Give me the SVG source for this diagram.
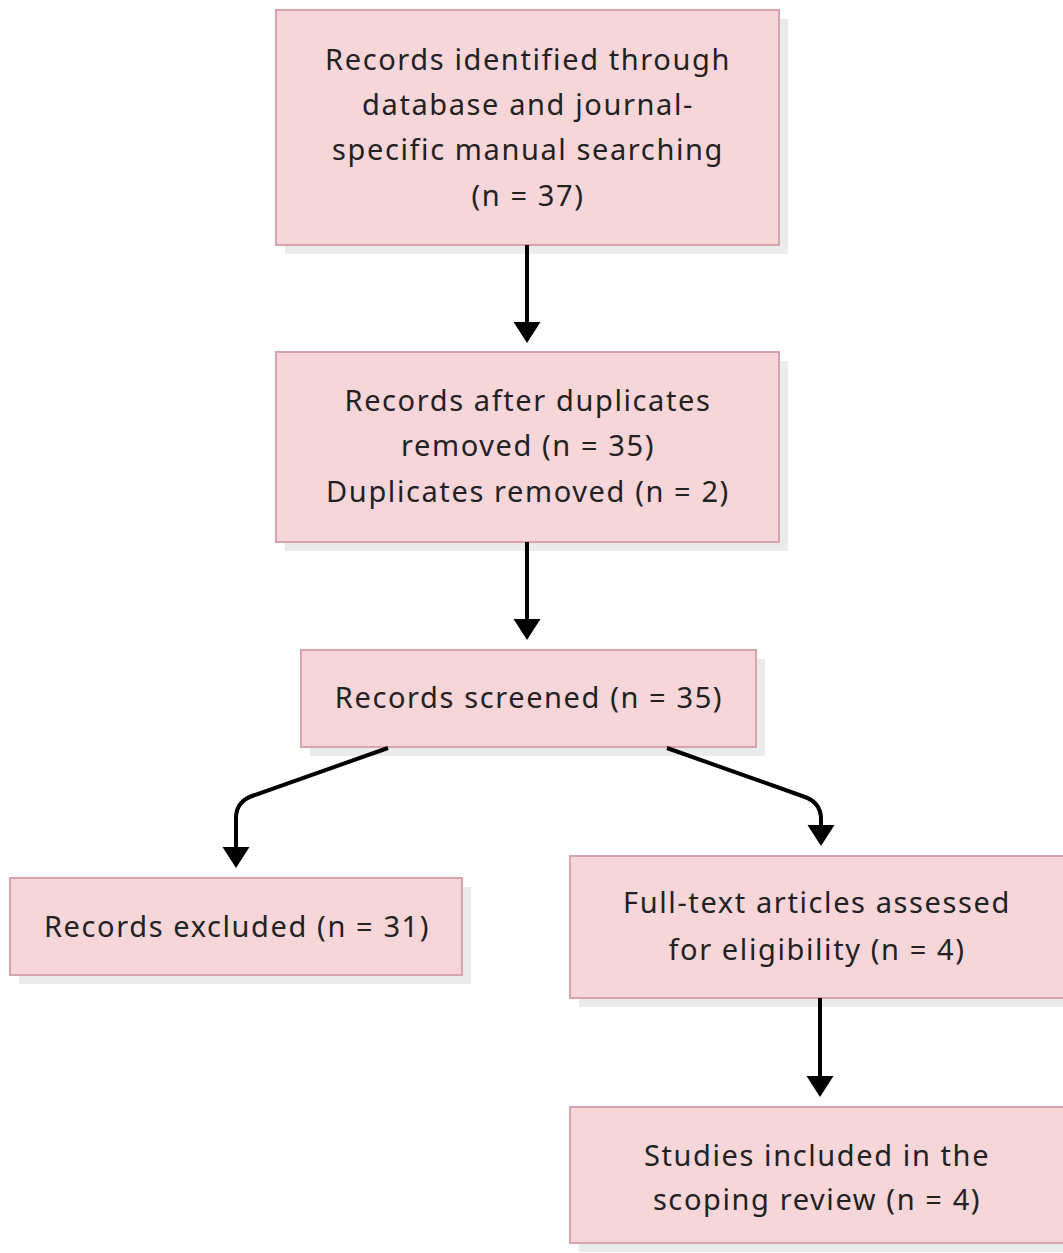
<svg xmlns="http://www.w3.org/2000/svg" width="1063" height="1253" viewBox="0 0 1063 1253">
<style>
.box{fill:#f7d6da;stroke:#d7a4ac;stroke-width:2}
.sh{fill:#ebebeb}
.t{font-family:"Noto Sans","Open Sans","Liberation Sans",sans-serif;font-size:29px;letter-spacing:1.6px;fill:#222;text-anchor:middle}
.c{fill:none;stroke:#000;stroke-width:4}
</style>
<defs>
<marker id="ah" markerUnits="userSpaceOnUse" markerWidth="22" markerHeight="28" refX="0" refY="13.5" orient="auto" viewBox="0 0 22 28">
<path d="M0,0 L21,13.5 L0,27 z" fill="#000"/>
</marker>
</defs>
<rect width="1063" height="1253" fill="#fff"/>
<g id="n1">
<rect class="sh" x="285" y="19" width="503" height="235"/>
<rect class="box" x="276" y="10" width="503" height="235"/>
<text class="t" x="528" y="70">Records identified through</text>
<text class="t" x="528" y="115">database and journal-</text>
<text class="t" x="528" y="160">specific manual searching</text>
<text class="t" x="528" y="206">(n = 37)</text>
</g>
<g id="n2">
<rect class="sh" x="285" y="361" width="503" height="190"/>
<rect class="box" x="276" y="352" width="503" height="190"/>
<text class="t" x="528" y="411">Records after duplicates</text>
<text class="t" x="528" y="456">removed (n = 35)</text>
<text class="t" x="528" y="502">Duplicates removed (n = 2)</text>
</g>
<g id="n3">
<rect class="sh" x="310" y="659" width="455" height="97"/>
<rect class="box" x="301" y="650" width="455" height="97"/>
<text class="t" x="529" y="708">Records screened (n = 35)</text>
</g>
<g id="n4">
<rect class="sh" x="19" y="887" width="452" height="97"/>
<rect class="box" x="10" y="878" width="452" height="97"/>
<text class="t" x="237" y="937">Records excluded (n = 31)</text>
</g>
<g id="n5">
<rect class="sh" x="579" y="865" width="500" height="142"/>
<rect class="box" x="570" y="856" width="500" height="142"/>
<text class="t" x="817" y="913">Full-text articles assessed</text>
<text class="t" x="817" y="960">for eligibility (n = 4)</text>
</g>
<g id="n6">
<rect class="sh" x="579" y="1116" width="500" height="136"/>
<rect class="box" x="570" y="1107" width="500" height="136"/>
<text class="t" x="817" y="1166">Studies included in the</text>
<text class="t" x="817" y="1210">scoping review (n = 4)</text>
</g>
<g id="connectors">
<path class="c" d="M527,245 V322" marker-end="url(#ah)"/>
<path class="c" d="M527,542 V619" marker-end="url(#ah)"/>
<path class="c" d="M388,748 L252,796 Q236,802 236,818 V847" marker-end="url(#ah)"/>
<path class="c" d="M667,748 L805,797 Q821,803 821,819 V825" marker-end="url(#ah)"/>
<path class="c" d="M820,998 V1076" marker-end="url(#ah)"/>
</g>
</svg>
